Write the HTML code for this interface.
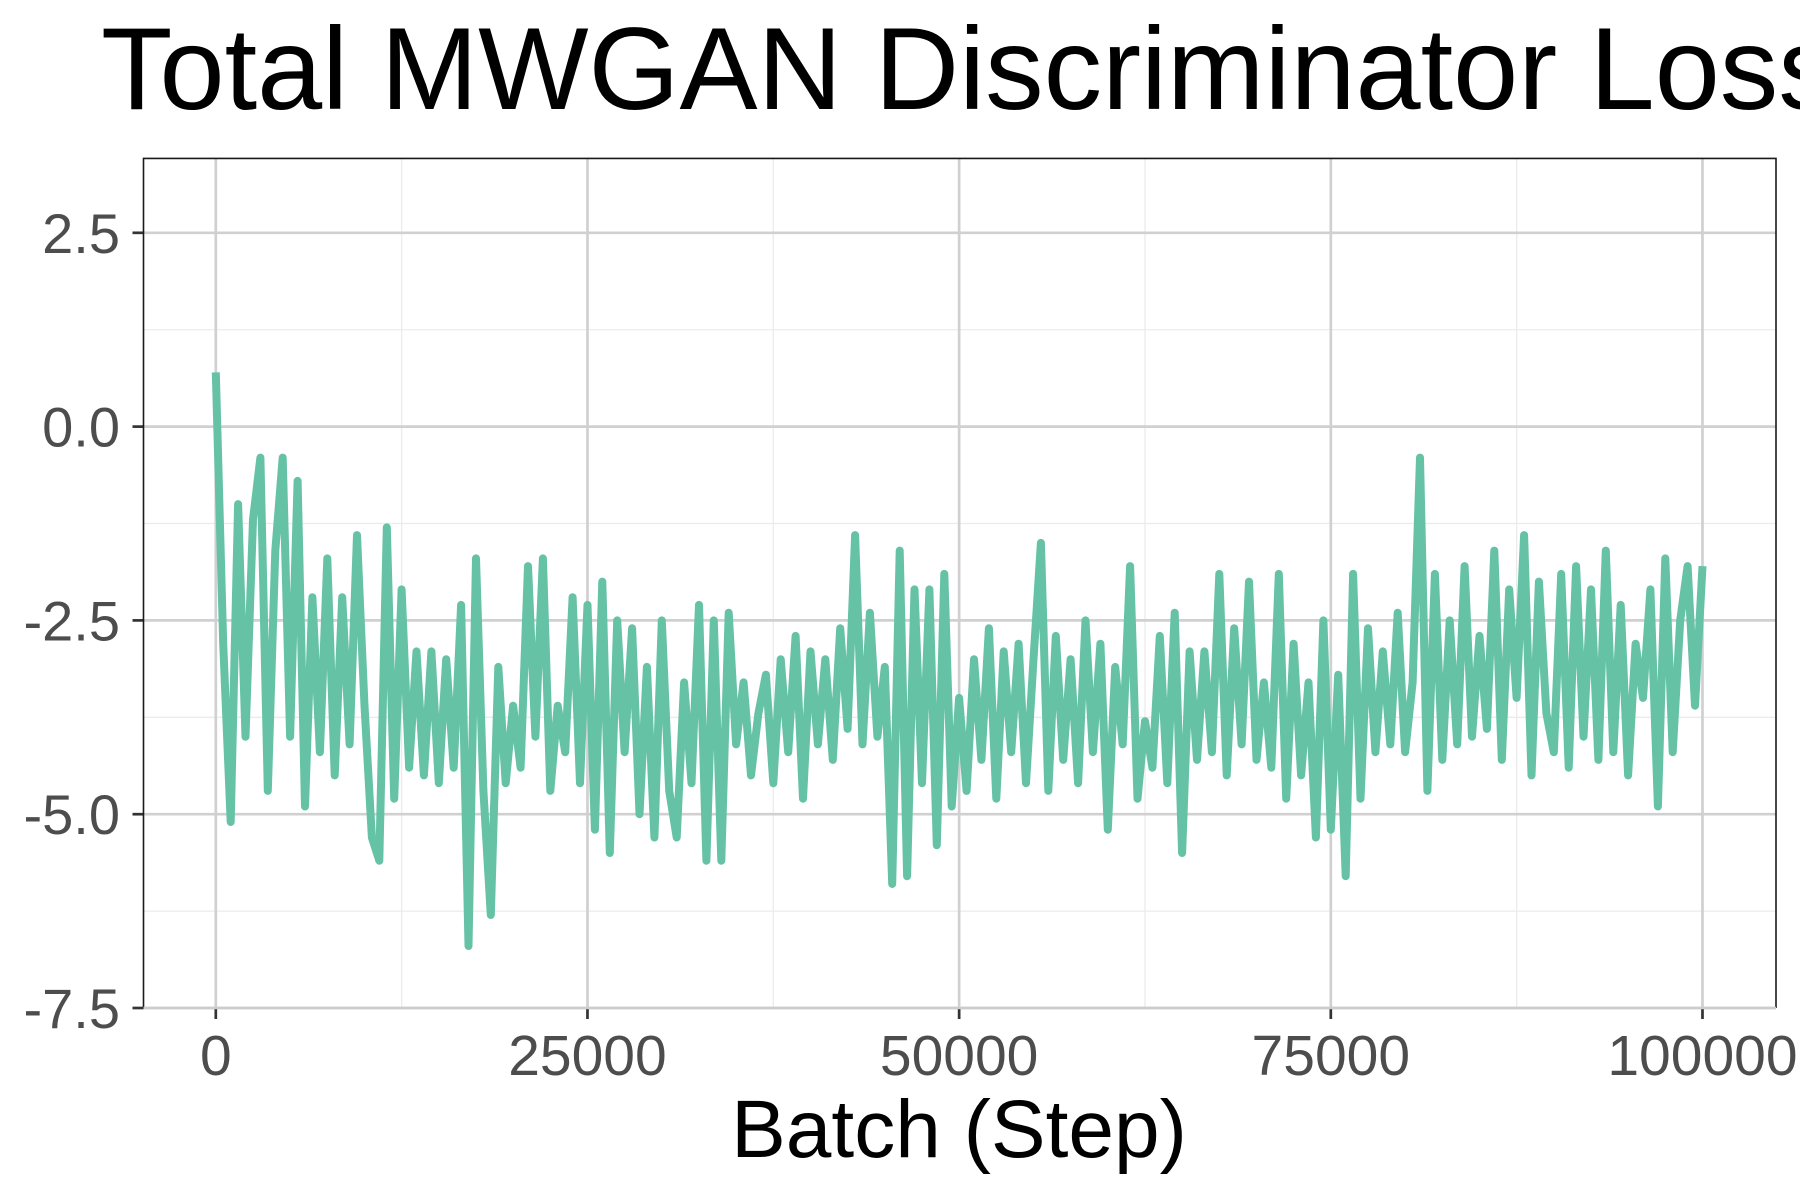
<!DOCTYPE html>
<html><head><meta charset="utf-8"><style>
html,body{margin:0;padding:0;background:#fff;overflow:hidden;}
svg{display:block;font-family:"Liberation Sans",Arial,sans-serif;}
</style></head><body>
<svg id="chart" width="1800" height="1200" viewBox="0 0 1800 1200">
<text x="101" y="109" font-size="117" fill="#000">Total MWGAN Discriminator Loss</text>
<g id="grid"></g>
<g id="series"></g>
<g id="axes"></g>
<text x="959" y="1157" font-size="82" text-anchor="middle" fill="#000">Batch (Step)</text>
</svg>
<script>
const xTicks = [0, 25000, 50000, 75000, 100000];
const xTickLabels = ["0", "25000", "50000", "75000", "100000"];
const yTicks = [2.5, 0, -2.5, -5, -7.5];
const yTickLabels = ["2.5", "0.0", "-2.5", "-5.0", "-7.5"];
const stepInterval = 500;
const lossValues = [0.7,-2.8,-5.1,-1.0,-4.0,-1.2,-0.4,-4.7,-1.6,-0.4,-4.0,-0.7,-4.9,-2.2,-4.2,-1.7,-4.5,-2.2,-4.1,-1.4,
-3.6,-5.3,-5.6,-1.3,-4.8,-2.1,-4.4,-2.9,-4.5,-2.9,-4.6,-3.0,-4.4,-2.3,-6.7,-1.7,-4.7,-6.3,-3.1,-4.6,
-3.6,-4.4,-1.8,-4.0,-1.7,-4.7,-3.6,-4.2,-2.2,-4.6,-2.3,-5.2,-2.0,-5.5,-2.5,-4.2,-2.6,-5.0,-3.1,-5.3,
-2.5,-4.7,-5.3,-3.3,-4.6,-2.3,-5.6,-2.5,-5.6,-2.4,-4.1,-3.3,-4.5,-3.7,-3.2,-4.6,-3.0,-4.2,-2.7,-4.8,
-2.9,-4.1,-3.0,-4.3,-2.6,-3.9,-1.4,-4.1,-2.4,-4.0,-3.1,-5.9,-1.6,-5.8,-2.1,-4.6,-2.1,-5.4,-1.9,-4.9,
-3.5,-4.7,-3.0,-4.3,-2.6,-4.8,-2.9,-4.2,-2.8,-4.6,-3.0,-1.5,-4.7,-2.7,-4.3,-3.0,-4.6,-2.5,-4.2,-2.8,
-5.2,-3.1,-4.1,-1.8,-4.8,-3.8,-4.4,-2.7,-4.6,-2.4,-5.5,-2.9,-4.3,-2.9,-4.2,-1.9,-4.5,-2.6,-4.1,-2.0,
-4.3,-3.3,-4.4,-1.9,-4.8,-2.8,-4.5,-3.3,-5.3,-2.5,-5.2,-3.2,-5.8,-1.9,-4.8,-2.6,-4.2,-2.9,-4.1,-2.4,
-4.2,-3.3,-0.4,-4.7,-1.9,-4.3,-2.5,-4.1,-1.8,-4.0,-2.7,-3.9,-1.6,-4.3,-2.1,-3.5,-1.4,-4.5,-2.0,-3.7,
-4.2,-1.9,-4.4,-1.8,-4.0,-2.1,-4.3,-1.6,-4.2,-2.3,-4.5,-2.8,-3.5,-2.1,-4.9,-1.7,-4.2,-2.5,-1.8,-3.6,-1.8];

const NS = "http://www.w3.org/2000/svg";
const P = {l:143.5, r:1776, t:158.4, b:1008};
const xMin = -4863, xMax = 104945, yMin = -7.5, yMax = 3.46;
function sx(v){ return P.l + (v - xMin) / (xMax - xMin) * (P.r - P.l); }
function sy(v){ return P.b - (v - yMin) / (yMax - yMin) * (P.b - P.t); }
function mk(tag, attrs, parent){ const e = document.createElementNS(NS, tag); for (const k in attrs) e.setAttribute(k, attrs[k]); parent.appendChild(e); return e; }

const grid = document.getElementById('grid');
const axes = document.getElementById('axes');
const series = document.getElementById('series');

for (let i = 0; i < xTicks.length - 1; i++) {
  const v = (xTicks[i] + xTicks[i+1]) / 2;
  const l = mk('line', {x1:sx(v), x2:sx(v), y1:P.t, y2:P.b, stroke:'#ebebeb', 'stroke-width':1.3}, grid);
  
  
}
for (let i = 0; i < yTicks.length - 1; i++) {
  const v = (yTicks[i] + yTicks[i+1]) / 2;
  const l = mk('line', {x1:P.l, x2:P.r, y1:sy(v), y2:sy(v), stroke:'#ebebeb', 'stroke-width':1.3}, grid);
  
  
}
xTicks.forEach((v, i) => {
  const l = mk('line', {x1:sx(v), x2:sx(v), y1:P.t, y2:P.b, stroke:'#d0d0d0', 'stroke-width':2.7}, grid);
  
  
  const t = mk('line', {x1:sx(v), x2:sx(v), y1:P.b, y2:P.b + 11, stroke:'#333', 'stroke-width':2.7}, axes);
  
  
  const tx = mk('text', {x:sx(v), y:1075, 'font-size':57, fill:'#4d4d4d', 'text-anchor':'middle'}, axes);
  tx.textContent = xTickLabels[i];
  
  
});
yTicks.forEach((v, i) => {
  const l = mk('line', {x1:P.l, x2:P.r, y1:sy(v), y2:sy(v), stroke:'#d0d0d0', 'stroke-width':2.7}, grid);
  
  
  const t = mk('line', {x1:P.l - 11, x2:P.l, y1:sy(v), y2:sy(v), stroke:'#333', 'stroke-width':2.7}, axes);
  
  
  const tx = mk('text', {x:120, y:sy(v) + 20, 'font-size':56, fill:'#4d4d4d', 'text-anchor':'end'}, axes);
  tx.textContent = yTickLabels[i];
  
  
});
const bl = mk('path', {d:`M${P.l},${P.b} L${P.l},${P.t} L${P.r},${P.t} L${P.r},${P.b}`, fill:'none', stroke:'#1a1a1a', 'stroke-width':1.6}, axes);


const bb = mk('line', {x1:P.l, x2:P.r, y1:P.b, y2:P.b, stroke:'#cccccc', 'stroke-width':2.5}, axes);


const pts = lossValues.map((v, i) => sx(i * stepInterval).toFixed(1) + ',' + sy(v).toFixed(1)).join(' ');
const pl = mk('polyline', {points:pts, fill:'none', stroke:'#66C2A5', 'stroke-width':8, 'stroke-linejoin':'round', 'stroke-linecap':'butt'}, series);


</script>
</body></html>
